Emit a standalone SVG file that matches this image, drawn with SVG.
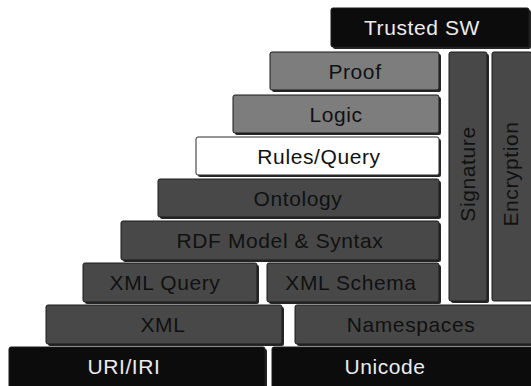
<svg xmlns="http://www.w3.org/2000/svg" width="531" height="386" viewBox="0 0 531 386">
<defs>
<style>
.sh{fill:#000;opacity:0.85}
.b{stroke:#1a1a1a;stroke-width:1}
.blk{fill:#0c0c0c}
.drk{fill:#484848}
.mid{fill:#7d7d7d}
.wht{fill:#ffffff;stroke:#2a2a2a}
text{font-family:"Liberation Sans",Arial,sans-serif;font-size:21px;letter-spacing:0.6px;text-anchor:middle}
.tw{fill:#ececec}
.tb{fill:#111111}
</style>
</defs>
<rect width="531" height="386" fill="#ffffff"/>
<g id="trusted">
<rect class="sh" x="333" y="10" width="198" height="39" rx="2"/>
<rect class="b blk" x="331" y="8" width="198" height="39" rx="2"/>
<text class="tw" x="422" y="35">Trusted SW</text>
</g>
<g id="proof">
<rect class="sh" x="272" y="54" width="169" height="38" rx="2"/>
<rect class="b mid" x="270" y="52" width="169" height="38" rx="2"/>
<text class="tb" x="355" y="79">Proof</text>
</g>
<g id="logic">
<rect class="sh" x="235" y="97" width="206" height="38" rx="2"/>
<rect class="b mid" x="233" y="95" width="206" height="38" rx="2"/>
<text class="tb" x="336" y="122">Logic</text>
</g>
<g id="rules">
<rect class="sh" x="198" y="139" width="243" height="38" rx="2"/>
<rect class="wht" x="196" y="137" width="243" height="38" rx="2"/>
<text class="tb" x="319" y="164">Rules/Query</text>
</g>
<g id="ontology">
<rect class="sh" x="160" y="181" width="281" height="38" rx="2"/>
<rect class="b drk" x="158" y="179" width="281" height="38" rx="2"/>
<text class="tb" x="298" y="206">Ontology</text>
</g>
<g id="rdf">
<rect class="sh" x="123" y="223" width="318" height="39" rx="2"/>
<rect class="b drk" x="121" y="221" width="318" height="39" rx="2"/>
<text class="tb" x="280" y="248">RDF Model &amp; Syntax</text>
</g>
<g id="xmlquery">
<rect class="sh" x="85" y="265" width="174" height="39" rx="2"/>
<rect class="b drk" x="83" y="263" width="174" height="39" rx="2"/>
<text class="tb" x="165" y="290">XML Query</text>
</g>
<g id="xmlschema">
<rect class="sh" x="269" y="265" width="172" height="39" rx="2"/>
<rect class="b drk" x="267" y="263" width="172" height="39" rx="2"/>
<text class="tb" x="351" y="290">XML Schema</text>
</g>
<g id="xml">
<rect class="sh" x="48" y="307" width="236" height="39" rx="2"/>
<rect class="b drk" x="46" y="305" width="236" height="39" rx="2"/>
<text class="tb" x="163" y="332">XML</text>
</g>
<g id="namespaces">
<rect class="sh" x="297" y="307" width="236" height="39" rx="2"/>
<rect class="b drk" x="295" y="305" width="238" height="39" rx="2"/>
<text class="tb" x="411" y="332">Namespaces</text>
</g>
<g id="uri">
<rect class="sh" x="11" y="349" width="256" height="39" rx="2"/>
<rect class="b blk" x="9" y="347" width="256" height="41" rx="2"/>
<text class="tw" x="124" y="374">URI/IRI</text>
</g>
<g id="unicode">
<rect class="b blk" x="272" y="347" width="261" height="41" rx="2"/>
<text class="tw" x="385" y="374">Unicode</text>
</g>
<g id="signature">
<rect class="sh" x="451" y="54" width="38" height="249" rx="2"/>
<rect class="b drk" x="449" y="52" width="38" height="249" rx="2"/>
<text class="tb" transform="translate(475,174) rotate(-90)">Signature</text>
</g>
<g id="encryption">
<rect class="b drk" x="492" y="52" width="40" height="249" rx="2"/>
<text class="tb" transform="translate(518,174) rotate(-90)">Encryption</text>
</g>
<g id="connectors"/>
</svg>
